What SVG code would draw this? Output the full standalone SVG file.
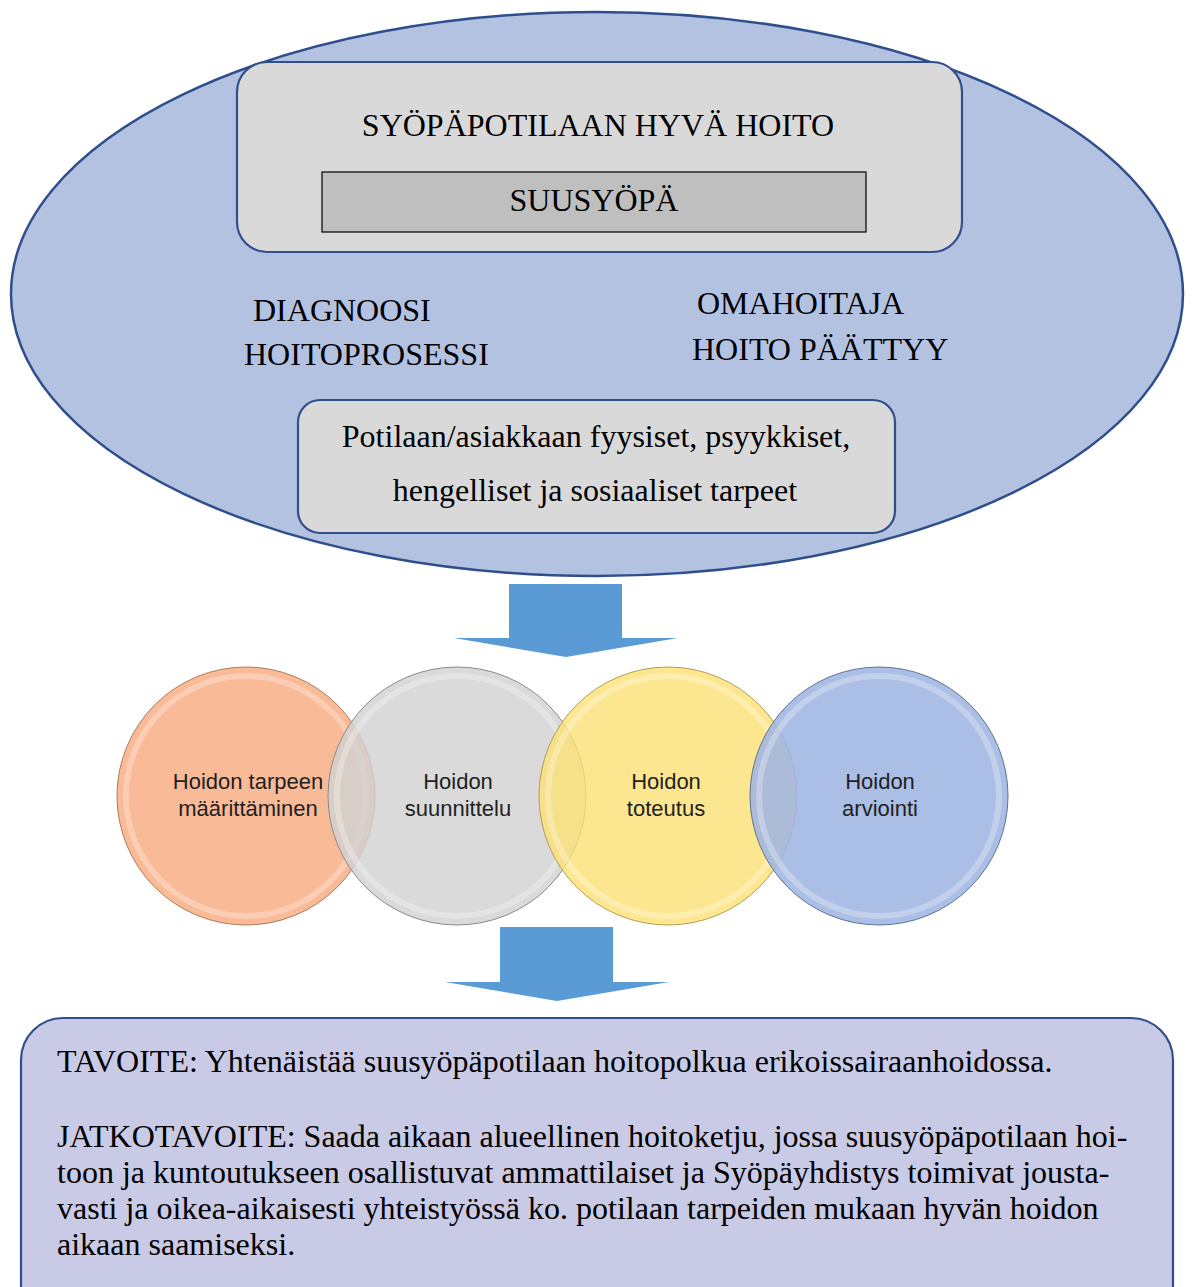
<svg xmlns="http://www.w3.org/2000/svg" width="1194" height="1287" viewBox="0 0 1194 1287">
<style>
.serif{font-family:"Liberation Serif","Times New Roman",serif;font-size:32px;fill:#000}
.sans{font-family:"Liberation Sans",Arial,sans-serif;font-size:22px;fill:#1f1f1f;text-anchor:middle}
.box{fill:#d9d9d9;stroke:#2f4f8c;stroke-width:2.2}
.arrow{fill:#5b9bd5}
.ring{fill:none;stroke:#ffffff;stroke-opacity:0.28;stroke-width:6}
</style>
<rect width="1194" height="1287" fill="#ffffff"/>
<g id="outer-ellipse">
<ellipse cx="597" cy="294" rx="586" ry="282" fill="#b4c2e1" stroke="#2f4f8c" stroke-width="2.5"/>
</g>
<g id="top-box">
<rect class="box" x="237" y="62" width="725" height="190" rx="30"/>
<text class="serif" x="598" y="136" text-anchor="middle">SYÖPÄPOTILAAN HYVÄ HOITO</text>
</g>
<g id="suusyopa">
<rect x="322" y="172" width="544" height="60" fill="#bfbfbf" stroke="#000" stroke-width="1.2"/>
<text class="serif" x="594" y="211" text-anchor="middle">SUUSYÖPÄ</text>
</g>
<g id="left-labels">
<text class="serif" x="253" y="321">DIAGNOOSI</text>
<text class="serif" x="244" y="365">HOITOPROSESSI</text>
</g>
<g id="right-labels">
<text class="serif" x="697" y="314">OMAHOITAJA</text>
<text class="serif" x="692" y="360">HOITO PÄÄTTYY</text>
</g>
<g id="needs-box">
<rect class="box" x="298" y="400" width="597" height="133" rx="22"/>
<text class="serif" x="596" y="447" text-anchor="middle">Potilaan/asiakkaan fyysiset, psyykkiset,</text>
<text class="serif" x="595" y="501" text-anchor="middle">hengelliset ja sosiaaliset tarpeet</text>
</g>
<g id="connectors">
<polygon class="arrow" points="509,584 622,584 622,638 678,638 566,657 454,638 509,638"/>
<polygon class="arrow" points="500,927 613,927 613,982 669,982 557,1001 445,982 500,982"/>
</g>
<g id="circle-1">
<circle cx="246" cy="796" r="129" fill="#f8b38c" fill-opacity="0.9" stroke="#b07a5a" stroke-width="1"/>
<circle class="ring" cx="246" cy="796" r="120"/>
<text class="sans" x="248" y="789">Hoidon tarpeen</text>
<text class="sans" x="248" y="816">määrittäminen</text>
</g>
<g id="circle-2">
<circle cx="457" cy="796" r="129" fill="#d2d2d2" fill-opacity="0.82" stroke="#8a8a8a" stroke-width="1"/>
<circle class="ring" cx="457" cy="796" r="120"/>
<text class="sans" x="458" y="789">Hoidon</text>
<text class="sans" x="458" y="816">suunnittelu</text>
</g>
<g id="circle-3">
<circle cx="668" cy="796" r="129" fill="#fde177" fill-opacity="0.82" stroke="#b39f50" stroke-width="1"/>
<circle class="ring" cx="668" cy="796" r="120"/>
<text class="sans" x="666" y="789">Hoidon</text>
<text class="sans" x="666" y="816">toteutus</text>
</g>
<g id="circle-4">
<circle cx="879" cy="796" r="129" fill="#9fb5e1" fill-opacity="0.88" stroke="#5f7394" stroke-width="1"/>
<circle class="ring" cx="879" cy="796" r="120"/>
<text class="sans" x="880" y="789">Hoidon</text>
<text class="sans" x="880" y="816">arviointi</text>
</g>
<g id="goal-box">
<rect x="21" y="1018" width="1152" height="320" rx="42" fill="#c9cae6" stroke="#2f4f8c" stroke-width="2.2"/>
<text class="serif" x="57" y="1072">TAVOITE: Yhtenäistää suusyöpäpotilaan hoitopolkua erikoissairaanhoidossa.</text>
<text class="serif" x="57" y="1147">JATKOTAVOITE: Saada aikaan alueellinen hoitoketju, jossa suusyöpäpotilaan hoi-</text>
<text class="serif" x="57" y="1183">toon ja kuntoutukseen osallistuvat ammattilaiset ja Syöpäyhdistys toimivat jousta-</text>
<text class="serif" x="57" y="1219">vasti ja oikea-aikaisesti yhteistyössä ko. potilaan tarpeiden mukaan hyvän hoidon</text>
<text class="serif" x="57" y="1255">aikaan saamiseksi.</text>
</g>
</svg>
